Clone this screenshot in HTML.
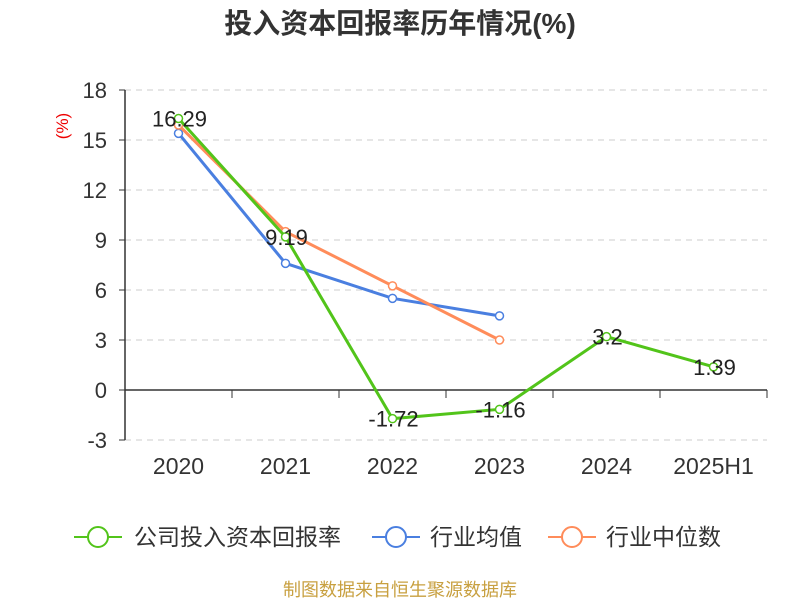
<!DOCTYPE html><html><head><meta charset="utf-8"><style>body{margin:0;background:#fff}svg text{font-family:"Liberation Sans","Noto Sans CJK SC",sans-serif}</style></head><body>
<svg id="c" width="800" height="600">
<text x="400" y="33" text-anchor="middle" font-size="28" font-weight="bold" fill="#333">投入资本回报率历年情况(%)</text>
<text transform="translate(68,126) rotate(-90)" text-anchor="middle" font-size="17" fill="#e00">(%)</text>
<g id="grid"></g><g id="series"></g>
<g font-size="23" fill="#333">
<g><line x1="74" y1="537" x2="122" y2="537" stroke="#52c41a" stroke-width="2"/><circle cx="98" cy="537" r="10" fill="#fff" stroke="#52c41a" stroke-width="2"/><text x="134" y="545">公司投入资本回报率</text></g>
<g><line x1="372" y1="537" x2="420" y2="537" stroke="#4a7fe0" stroke-width="2"/><circle cx="396" cy="537" r="10" fill="#fff" stroke="#4a7fe0" stroke-width="2"/><text x="430" y="545">行业均值</text></g>
<g><line x1="548" y1="537" x2="596" y2="537" stroke="#ff8c5a" stroke-width="2"/><circle cx="572" cy="537" r="10" fill="#fff" stroke="#ff8c5a" stroke-width="2"/><text x="606" y="545">行业中位数</text></g>
</g>
<text x="400" y="596" text-anchor="middle" font-size="18" fill="#c8a040">制图数据来自恒生聚源数据库</text>
</svg>
<script>
const categories=["2020","2021","2022","2023","2024","2025H1"];
const companyVals=[16.29,9.19,-1.72,-1.16,3.2,1.39];
const avgVals=[15.4,7.6,5.5,4.45];
const medianVals=[15.9,9.5,6.25,3.0];
const yTicks=[-3,0,3,6,9,12,15,18];
const NS="http://www.w3.org/2000/svg";
const L=125,R=767,bw=(R-L)/categories.length;
const X=i=>L+bw*(i+0.5), Y=v=>390-(v)*350/21;
function el(t,a,p){const e=document.createElementNS(NS,t);for(const k in a)e.setAttribute(k,a[k]);p.appendChild(e);return e;}
const g=document.getElementById('grid'),s=document.getElementById('series');
yTicks.forEach(v=>{const y=Y(v);
if(v!==0){const l=el('line',{x1:L,x2:R,y1:y,y2:y,stroke:'#ccc','stroke-dasharray':'6,5'},g);}
el('line',{x1:L-6,x2:L,y1:y,y2:y,stroke:'#333'},g);
const t=el('text',{x:L-18,y:y+8,'text-anchor':'end','font-size':22,fill:'#333'},g);t.textContent=v;
});
el('line',{x1:L,x2:L,y1:Y(18),y2:Y(-3),stroke:'#333','stroke-width':1.5},g);
el('line',{x1:L,x2:R,y1:Y(0),y2:Y(0),stroke:'#333','stroke-width':1.5},g);
categories.forEach((c,i)=>{const x=L+bw*(i+1);el('line',{x1:x,x2:x,y1:Y(0),y2:Y(0)+8,stroke:'#333'},g);
const t=el('text',{x:X(i),y:474,'text-anchor':'middle','font-size':23,fill:'#333'},g);t.textContent=c;
});
function series(vals,col,name,labels){const gg=el('g',{},s);
el('polyline',{points:vals.map((v,i)=>X(i)+','+Y(v)).join(' '),fill:'none',stroke:col,'stroke-width':3},gg);
vals.forEach((v,i)=>{const c=el('circle',{cx:X(i),cy:Y(v),r:4,fill:'#fff',stroke:col,'stroke-width':1.5},gg);
if(labels){const t=el('text',{x:X(i)+1,y:Y(v)+8,'text-anchor':'middle','font-size':22,fill:'#222'},gg);t.textContent=v;}});}
series(avgVals,'#4a7fe0','series-industry-avg',false);
series(medianVals,'#ff8c5a','series-industry-median',false);
series(companyVals,'#52c41a','series-company',true);
</script></body></html>
